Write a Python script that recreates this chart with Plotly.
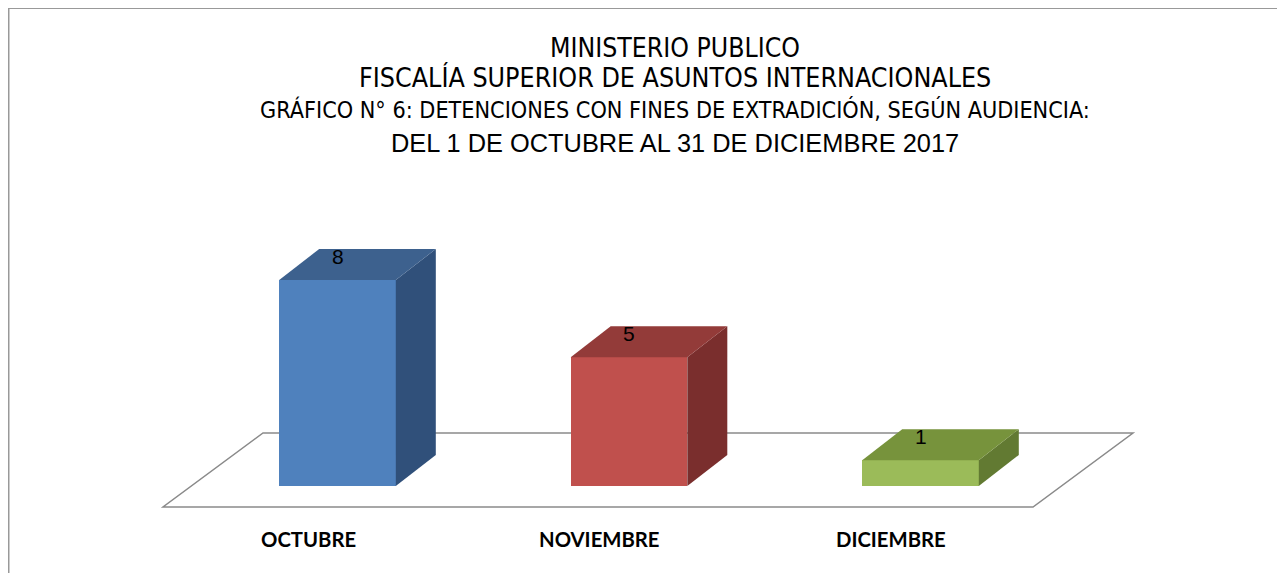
import plotly.graph_objects as go

# ---- data ----
categories = ["OCTUBRE", "NOVIEMBRE", "DICIEMBRE"]
values = [8, 5, 1]
front_colors = ["#4F81BD", "#C0504D", "#9BBB59"]
top_colors = ["#3D618E", "#933B39", "#77933C"]
side_colors = ["#30507A", "#7A2E2D", "#627A32"]
title_lines = [
    "MINISTERIO PUBLICO",
    "FISCALÍA SUPERIOR DE ASUNTOS INTERNACIONALES",
    "GRÁFICO N° 6: DETENCIONES CON FINES DE EXTRADICIÓN, SEGÚN AUDIENCIA:",
    "DEL 1 DE OCTUBRE AL 31 DE DICIEMBRE 2017",
]

# ---- geometry (figure pixels; page has 8px body margin) ----
OFF = 8
W, H = 1285 - OFF, 573 - OFF
PX_X = 291.5          # pixels per category step
PX_Y = 25.75          # pixels per value unit
X0_PX = 337.5 - OFF   # pixel x of category 0
Y0_PX = 486.0 - OFF   # pixel y of value 0
BAR_W = 0.40
DX = 40 / PX_X        # depth offset (x)
DY = 31 / PX_Y        # depth offset (y)

def xp(px):  # screen pixel -> x data
    return (px - OFF - X0_PX) / PX_X

def yp(py):  # screen pixel -> y data
    return (Y0_PX - (py - OFF)) / PX_Y

xs = list(range(len(categories)))

fig = go.Figure()

# front faces
fig.add_trace(go.Bar(
    x=xs, y=values, width=BAR_W,
    marker=dict(color=front_colors, line=dict(width=0)),
    hoverinfo="skip", showlegend=False,
))

# side and top faces
for i, v in enumerate(values):
    xl, xr = i - BAR_W / 2, i + BAR_W / 2
    fig.add_trace(go.Scatter(
        x=[xr, xr, xr + DX, xr + DX, xr], y=[0, v, v + DY, DY, 0],
        fill="toself", fillcolor=side_colors[i], mode="lines",
        line=dict(width=0, color=side_colors[i]), hoverinfo="skip", showlegend=False,
    ))
    fig.add_trace(go.Scatter(
        x=[xl, xr, xr + DX, xl + DX, xl], y=[v, v, v + DY, v + DY, v],
        fill="toself", fillcolor=top_colors[i], mode="lines",
        line=dict(width=0, color=top_colors[i]), hoverinfo="skip", showlegend=False,
    ))
    fig.add_annotation(x=i, y=v + 24 / PX_Y, text=str(v), showarrow=False,
                       font=dict(family="Liberation Sans, Arial", size=21, color="black"),
                       xanchor="center", yanchor="middle")
    fig.add_annotation(x=i - 29.5 / PX_X, y=yp(539), text=f"<b>{categories[i]}</b>",
                       showarrow=False,
                       font=dict(family="Lato, Liberation Sans", size=20.3, color="black"),
                       xanchor="center", yanchor="middle")

# floor
fy, by = yp(507), yp(433)
fxl, fxr = xp(163), xp(1033)
bxl, bxr = xp(263), xp(1133)
fig.add_shape(type="path", xref="x", yref="y", layer="below",
              path=f"M {fxl},{fy} L {fxr},{fy} L {bxr},{by} L {bxl},{by} Z",
              line=dict(color="#8a8a8a", width=1.5), fillcolor="white")

# border (figure edge)
fig.add_shape(type="rect", xref="paper", yref="paper",
              x0=0.5 / W, x1=1.05, y0=-0.05, y1=1 - 0.0 / H,
              line=dict(color="#999999", width=2), fillcolor="rgba(0,0,0,0)")

# titles
ty = [47, 78, 110, 143]
narrow = "DejaVu Sans Condensed, Liberation Sans Narrow, Arial Narrow, Liberation Sans"
tf = [(narrow, 26.4), (narrow, 26.6), (narrow, 23.2), ("Liberation Sans, Arial", 25.4)]
for t, y, (fam, sz) in zip(title_lines, ty, tf):
    fig.add_annotation(xref="paper", yref="paper", x=(675 - OFF) / W, y=1 - (y - OFF) / H, text=t,
                       showarrow=False, xanchor="center", yanchor="middle",
                       font=dict(family=fam, size=sz, color="black"))

fig.update_layout(
    width=W, height=H,
    margin=dict(l=0, r=0, t=0, b=0),
    paper_bgcolor="white", plot_bgcolor="white",
    xaxis=dict(range=[-X0_PX / PX_X, (W - X0_PX) / PX_X], visible=False, fixedrange=True),
    yaxis=dict(range=[-(H - Y0_PX) / PX_Y, Y0_PX / PX_Y], visible=False, fixedrange=True),
    bargap=0,
)

fig.write_html("out.html")
